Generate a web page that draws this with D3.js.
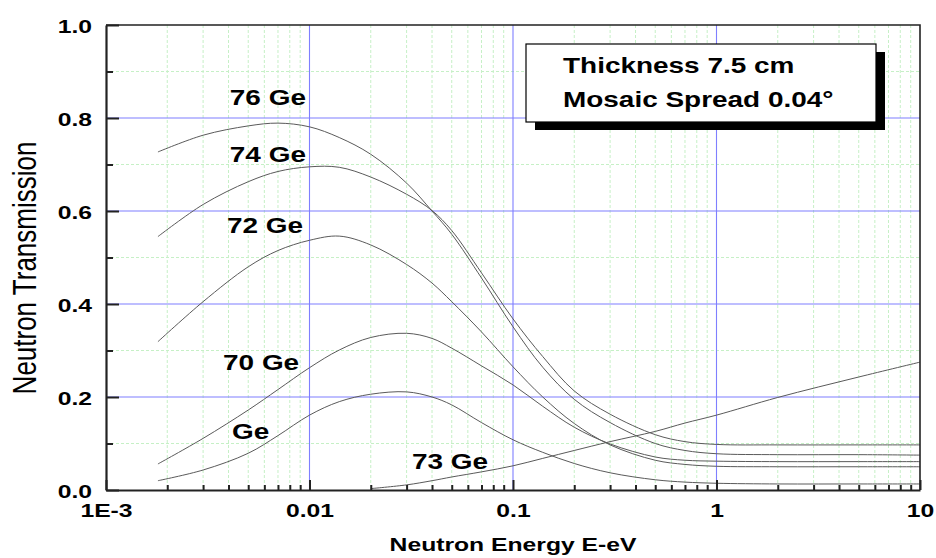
<!DOCTYPE html>
<html>
<head>
<meta charset="utf-8">
<script src="https://cdn.jsdelivr.net/npm/d3@7/dist/d3.min.js"></script>
<style>
  html, body { margin: 0; padding: 0; background: #fff; }
  svg { display: block; }
  text { font-family: "Liberation Sans", Arial, Helvetica, sans-serif; fill: #000; }
</style>
</head>
<body>
<svg id="chart" width="936" height="558"></svg>
<script>
// Neutron energy grid (eV) shared by all curves
const energy = [0.0018, 0.003, 0.005, 0.007, 0.01, 0.014, 0.02, 0.03, 0.04, 0.05, 0.07,
                0.1, 0.14, 0.2, 0.3, 0.5, 0.7, 1, 2, 5, 10];

// Transmission for each germanium crystal
const ge76 = [0.727, 0.763, 0.783, 0.789, 0.781, 0.758, 0.722, 0.660, 0.600, 0.550, 0.456,
              0.351, 0.264, 0.195, 0.145, 0.100, 0.085, 0.078, 0.076, 0.076, 0.075];
const ge74 = [0.545, 0.614, 0.663, 0.685, 0.695, 0.694, 0.673, 0.636, 0.601, 0.558, 0.467,
              0.368, 0.287, 0.213, 0.163, 0.119, 0.104, 0.098, 0.097, 0.097, 0.097];
const ge72 = [0.319, 0.405, 0.480, 0.515, 0.537, 0.546, 0.527, 0.485, 0.445, 0.405, 0.340,
              0.265, 0.200, 0.143, 0.097, 0.064, 0.055, 0.051, 0.050, 0.050, 0.050];
const ge70 = [0.056, 0.111, 0.172, 0.216, 0.263, 0.301, 0.328, 0.337, 0.326, 0.305, 0.267,
              0.226, 0.180, 0.135, 0.099, 0.071, 0.064, 0.062, 0.061, 0.061, 0.061];
const geNat = [0.020, 0.043, 0.079, 0.117, 0.161, 0.190, 0.206, 0.211, 0.200, 0.183, 0.145,
               0.108, 0.081, 0.057, 0.037, 0.022, 0.017, 0.0145, 0.013, 0.013, 0.013];
const ge73 = [null, null, null, null, null, null, 0.003, 0.011, 0.020, 0.028, 0.039,
              0.052, 0.068, 0.085, 0.104, 0.126, 0.144, 0.161, 0.199, 0.243, 0.275];

const seriesNames = ["76 Ge", "74 Ge", "72 Ge", "70 Ge", "Ge", "73 Ge"];
const seriesValues = [ge76, ge74, ge72, ge70, geNat, ge73];
// label anchor (energy, transmission) for each curve name
const labelEnergy = [0.00406, 0.00406, 0.00393, 0.00376, 0.00416, 0.0319];
const labelTrans  = [0.828, 0.705, 0.553, 0.259, 0.110, 0.045];

const xTickValues = [0.001, 0.01, 0.1, 1, 10];
const xTickLabels = ["1E-3", "0.01", "0.1", "1", "10"];
const yTickValues = [0, 0.2, 0.4, 0.6, 0.8, 1.0];
const yTickLabels = ["0.0", "0.2", "0.4", "0.6", "0.8", "1.0"];

const legendLines = ["Thickness 7.5 cm", "Mosaic Spread 0.04°"];
const xTitle = "Neutron Energy E-eV";
const yTitle = "Neutron Transmission";

// ---- layout ----
const L = 106, R = 920, T = 25, B = 490;
const SX = 1.3;   // horizontal widening applied to all lettering

const svg = d3.select("#chart");
svg.append("rect").attr("width", 936).attr("height", 558).attr("fill", "#fff");

const x = d3.scaleLog().domain([1e-3, 10]).range([L, R]);
const y = d3.scaleLinear().domain([0, 1]).range([B, T]);

const decades = [0.001, 0.01, 0.1, 1];
const minorX = decades.flatMap(d => d3.range(2, 10).map(k => d * k));
const majorX = [0.01, 0.1, 1];
const minorY = [0.1, 0.3, 0.5, 0.7, 0.9];
const majorY = [0.2, 0.4, 0.6, 0.8];

// minor grid (light green dashes)
const grid = svg.append("g");
grid.selectAll(".mx").data(minorX).join("line")
  .attr("x1", d => x(d)).attr("x2", d => x(d)).attr("y1", T).attr("y2", B)
  .attr("stroke", "#c6f0c6").attr("stroke-width", 1).attr("stroke-dasharray", "3,2");
grid.selectAll(".my").data(minorY).join("line")
  .attr("x1", L).attr("x2", R).attr("y1", d => y(d)).attr("y2", d => y(d))
  .attr("stroke", "#c6f0c6").attr("stroke-width", 1).attr("stroke-dasharray", "3,2");
// major grid (blue)
grid.selectAll(".Mx").data(majorX).join("line")
  .attr("x1", d => x(d)).attr("x2", d => x(d)).attr("y1", T).attr("y2", B)
  .attr("stroke", "#7f7fff").attr("stroke-width", 1.1);
grid.selectAll(".My").data(majorY).join("line")
  .attr("x1", L).attr("x2", R).attr("y1", d => y(d)).attr("y2", d => y(d))
  .attr("stroke", "#7f7fff").attr("stroke-width", 1.1);

// curves
const line = d3.line()
  .defined(d => d[1] != null)
  .x(d => x(d[0])).y(d => y(d[1]))
  .curve(d3.curveCatmullRom.alpha(0.5));

svg.append("g").selectAll("path").data(seriesValues).join("path")
  .attr("d", vals => line(energy.map((e, i) => [e, vals[i]])))
  .attr("fill", "none").attr("stroke", "#5a5a5a").attr("stroke-width", 1);

// frame (top and right)
svg.append("path")
  .attr("d", `M${L},${T}H${R}V${B}`)
  .attr("fill", "none").attr("stroke", "#222").attr("stroke-width", 1.6);

// bottom axis
const xAxis = svg.append("g").attr("transform", `translate(0,${B})`);
xAxis.call(d3.axisBottom(x).tickValues(minorX).tickSize(-5).tickFormat(""))
  .call(g => g.select(".domain").remove());
const xAxisMajor = svg.append("g").attr("transform", `translate(0,${B})`);
xAxisMajor.call(d3.axisBottom(x).tickValues(xTickValues).tickSize(-10).tickSizeOuter(0)
  .tickFormat((d, i) => xTickLabels[i]));
xAxisMajor.selectAll("text")
  .attr("y", null).attr("dy", null)
  .attr("transform", `translate(0,27) scale(${SX},1)`)
  .style("font-size", "19px").style("font-weight", "bold")
  .attr("text-anchor", "middle").attr("fill", "#000");

// left axis
const yAxis = svg.append("g").attr("transform", `translate(${L},0)`);
yAxis.call(d3.axisLeft(y).tickValues(minorY).tickSize(-7).tickFormat(""))
  .call(g => g.select(".domain").remove());
const yAxisMajor = svg.append("g").attr("transform", `translate(${L},0)`);
yAxisMajor.call(d3.axisLeft(y).tickValues(yTickValues).tickSize(-13).tickSizeOuter(0)
  .tickFormat((d, i) => yTickLabels[i]));
yAxisMajor.selectAll("text")
  .attr("x", null).attr("dy", null)
  .attr("transform", `translate(-14,7) scale(${SX},1)`)
  .style("font-size", "19px").style("font-weight", "bold")
  .attr("text-anchor", "end").attr("fill", "#000");

[xAxis, xAxisMajor, yAxis, yAxisMajor].forEach(g => {
  g.selectAll(".tick line").attr("stroke", "#222").attr("stroke-width", 2);
  g.selectAll(".domain").attr("stroke", "#222").attr("stroke-width", 2.2);
});

// axis titles
svg.append("text")
  .attr("transform", `translate(513,551) scale(${SX},1)`)
  .attr("text-anchor", "middle")
  .style("font-size", "19px").style("font-weight", "bold")
  .text(xTitle);
svg.append("text")
  .attr("transform", `translate(35.5,268) scale(${SX},1) rotate(-90)`)
  .attr("text-anchor", "middle")
  .style("font-size", "26px")
  .text(yTitle);

// curve names
svg.append("g").selectAll("text").data(seriesNames).join("text")
  .attr("transform", (d, i) => `translate(${x(labelEnergy[i])},${y(labelTrans[i])}) scale(${SX},1)`)
  .style("font-size", "21.5px").style("font-weight", "bold")
  .text(d => d);

// legend box with drop shadow
const lg = svg.append("g");
lg.append("rect").attr("x", 535).attr("y", 52).attr("width", 350).attr("height", 78).attr("fill", "#000");
lg.append("rect").attr("x", 526).attr("y", 44).attr("width", 350).attr("height", 78)
  .attr("fill", "#fff").attr("stroke", "#000").attr("stroke-width", 1.2);
lg.selectAll("text").data(legendLines).join("text")
  .attr("transform", (d, i) => `translate(563,${73 + i * 34}) scale(${SX},1)`)
  .style("font-size", "21.5px").style("font-weight", "bold")
  .text(d => d);
</script>
</body>
</html>
